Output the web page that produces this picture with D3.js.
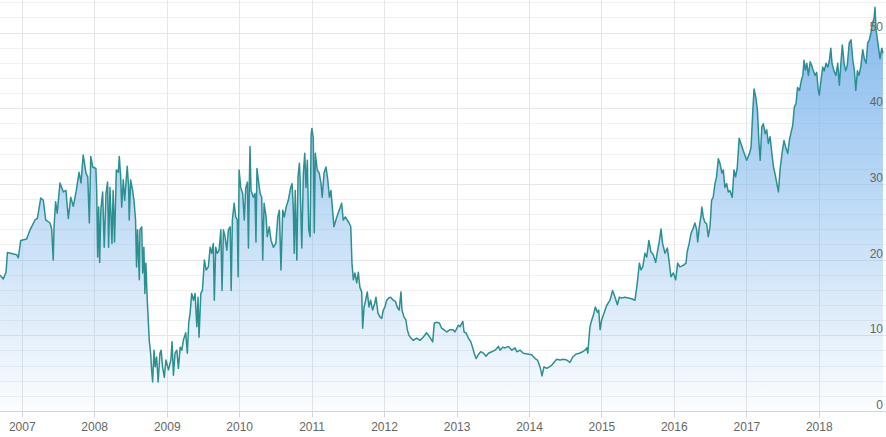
<!DOCTYPE html>
<html>
<head>
<meta charset="utf-8">
<script src="https://cdn.jsdelivr.net/npm/d3@7"></script>
<style>
  html, body { margin: 0; padding: 0; background: #fff; }
  #chart-container { width: 886px; height: 437px; }
  text { font-family: "Liberation Sans", Arial, sans-serif; font-size: 12px; fill: #666; }
</style>
</head>
<body>
<div id="chart-container"></div>
<script>
// price series, one entry per date
const dates = [
  "2006-09-11","2006-09-27","2006-10-11","2006-10-18","2006-12-04","2006-12-12","2006-12-24",
  "2007-01-23","2007-02-09","2007-03-06","2007-03-18","2007-04-04","2007-04-17","2007-04-29",
  "2007-05-21","2007-05-29","2007-06-06","2007-06-10","2007-06-18","2007-06-26","2007-07-10",
  "2007-07-27","2007-08-09","2007-08-21","2007-09-02","2007-09-15","2007-09-29","2007-10-14",
  "2007-10-24","2007-11-04","2007-11-18","2007-11-27","2007-12-05","2007-12-12","2007-12-22",
  "2008-01-07","2008-01-11","2008-01-16","2008-01-21","2008-01-26","2008-02-01","2008-02-10",
  "2008-02-18","2008-02-27","2008-03-06","2008-03-11","2008-03-18","2008-03-28","2008-04-03",
  "2008-04-10","2008-04-19","2008-04-29","2008-05-04","2008-05-11","2008-05-16","2008-05-24",
  "2008-05-31","2008-06-13","2008-06-20","2008-06-23","2008-06-30","2008-07-10","2008-07-17",
  "2008-07-25","2008-07-30","2008-08-04","2008-08-13","2008-08-16","2008-08-25","2008-08-30",
  "2008-09-05","2008-09-10","2008-09-15","2008-09-22","2008-10-02","2008-10-09","2008-10-14",
  "2008-10-19","2008-10-26","2008-11-01","2008-11-08","2008-11-16","2008-11-25","2008-12-01",
  "2008-12-08","2008-12-17","2008-12-25","2009-01-07","2009-01-19","2009-01-25","2009-02-01",
  "2009-02-09","2009-02-18","2009-02-26","2009-03-07","2009-03-15","2009-03-23","2009-04-04",
  "2009-04-12","2009-04-19","2009-04-26","2009-05-04","2009-05-13","2009-05-21","2009-05-30",
  "2009-06-05","2009-06-10","2009-06-19","2009-06-27","2009-07-07","2009-07-16","2009-07-27",
  "2009-08-05","2009-08-13","2009-08-21","2009-08-26","2009-09-02","2009-09-10","2009-09-19",
  "2009-09-28","2009-10-04","2009-10-11","2009-10-19","2009-10-28","2009-11-05","2009-11-14",
  "2009-11-19","2009-11-25","2009-12-04","2009-12-12","2009-12-20","2009-12-24","2009-12-29",
  "2010-01-06","2010-01-16","2010-01-24","2010-01-31","2010-02-09","2010-02-14","2010-02-19",
  "2010-02-22","2010-02-27","2010-03-11","2010-03-19","2010-03-24","2010-03-29","2010-04-05",
  "2010-04-14","2010-04-22","2010-04-27","2010-05-04","2010-05-14","2010-05-20","2010-05-30",
  "2010-06-08","2010-06-20","2010-07-02","2010-07-12","2010-07-20","2010-07-28","2010-08-06",
  "2010-08-14","2010-08-23","2010-09-03","2010-09-15","2010-09-22","2010-09-28","2010-10-03",
  "2010-10-08","2010-10-16","2010-10-22","2010-10-29","2010-11-01","2010-11-10","2010-11-18",
  "2010-11-25","2010-12-01","2010-12-08","2010-12-15","2010-12-22","2010-12-27","2010-12-31",
  "2011-01-07","2011-01-12","2011-01-17","2011-01-27","2011-02-06","2011-02-15","2011-02-21",
  "2011-03-02","2011-03-12","2011-03-21","2011-03-29","2011-04-06","2011-04-13","2011-04-21",
  "2011-05-01","2011-05-12","2011-05-22","2011-05-30","2011-06-07","2011-06-17","2011-06-27",
  "2011-07-07","2011-07-15","2011-07-21","2011-07-28","2011-08-05","2011-08-14","2011-08-22",
  "2011-08-30","2011-09-08","2011-09-13","2011-09-20","2011-09-28","2011-10-06","2011-10-15",
  "2011-10-23","2011-11-02","2011-11-13","2011-11-19","2011-11-29","2011-12-09","2011-12-18",
  "2011-12-26","2012-01-03","2012-01-12","2012-01-22","2012-02-01","2012-02-14","2012-02-26",
  "2012-03-05","2012-03-15","2012-03-24","2012-03-29","2012-04-08","2012-04-18","2012-04-25",
  "2012-05-03","2012-05-13","2012-05-25","2012-06-11","2012-06-28","2012-07-14","2012-07-31",
  "2012-08-17","2012-08-31","2012-09-08","2012-09-20","2012-10-03","2012-10-15","2012-10-27",
  "2012-11-09","2012-11-26","2012-12-12","2012-12-21","2013-01-08","2013-01-16","2013-01-30",
  "2013-02-05","2013-02-15","2013-02-27","2013-03-11","2013-03-21","2013-03-28","2013-04-07",
  "2013-04-18","2013-04-30","2013-05-14","2013-05-27","2013-06-08","2013-06-25","2013-07-12",
  "2013-07-28","2013-08-06","2013-08-19","2013-08-31","2013-09-17","2013-10-04","2013-10-20",
  "2013-10-29","2013-11-15","2013-12-01","2013-12-21","2014-01-12","2014-01-29","2014-02-10",
  "2014-02-20","2014-02-27","2014-03-05","2014-03-15","2014-03-29","2014-04-11","2014-04-23",
  "2014-05-05","2014-05-18","2014-06-04","2014-06-21","2014-07-08","2014-07-24","2014-08-07",
  "2014-08-24","2014-09-09","2014-09-26","2014-10-08","2014-10-17","2014-10-22","2014-10-27",
  "2014-11-02","2014-11-11","2014-11-19","2014-11-29","2014-12-09","2014-12-16","2014-12-23",
  "2014-12-31","2015-01-12","2015-01-25","2015-02-11","2015-02-24","2015-03-08","2015-03-20",
  "2015-03-30","2015-04-11","2015-04-27","2015-05-14","2015-05-31","2015-06-17","2015-06-28",
  "2015-07-09","2015-07-17","2015-07-26","2015-08-06","2015-08-15","2015-08-26","2015-09-05",
  "2015-09-17","2015-09-29","2015-10-09","2015-10-17","2015-10-26","2015-11-03","2015-11-15",
  "2015-11-27","2015-12-07","2015-12-15","2015-12-27","2016-01-08","2016-01-18","2016-01-29",
  "2016-02-15","2016-02-29","2016-03-06","2016-03-16","2016-03-25","2016-04-05","2016-04-14",
  "2016-04-23","2016-04-28","2016-05-06","2016-05-14","2016-05-19","2016-05-26","2016-06-03",
  "2016-06-12","2016-06-20","2016-06-29","2016-07-07","2016-07-15","2016-07-24","2016-08-01",
  "2016-08-10","2016-08-18","2016-08-28","2016-09-04","2016-09-12","2016-09-21","2016-09-29",
  "2016-10-07","2016-10-19","2016-10-28","2016-11-05","2016-11-13","2016-11-23","2016-12-13",
  "2016-12-31","2017-01-14","2017-01-22","2017-01-31","2017-02-06","2017-02-15","2017-02-23",
  "2017-03-03","2017-03-09","2017-03-17","2017-03-25","2017-04-03","2017-04-11","2017-04-19",
  "2017-04-28","2017-05-07","2017-05-15","2017-05-23","2017-06-01","2017-06-09","2017-06-17",
  "2017-06-27","2017-07-07","2017-07-18","2017-07-26","2017-08-03","2017-08-12","2017-08-20",
  "2017-08-28","2017-09-06","2017-09-13","2017-09-23","2017-10-03","2017-10-10","2017-10-16",
  "2017-10-23","2017-10-30","2017-11-07","2017-11-16","2017-11-24","2017-12-02","2017-12-11",
  "2017-12-19","2017-12-27","2018-01-01","2018-01-10","2018-01-18","2018-01-26","2018-02-04",
  "2018-02-13","2018-02-21","2018-02-28","2018-03-06","2018-03-16","2018-03-26","2018-04-04",
  "2018-04-12","2018-04-21","2018-04-27","2018-05-06","2018-05-14","2018-05-22","2018-06-01",
  "2018-06-10","2018-06-19","2018-06-27","2018-07-04","2018-07-12","2018-07-20","2018-07-29",
  "2018-08-08","2018-08-16","2018-08-25","2018-09-02","2018-09-10","2018-09-19","2018-09-27",
  "2018-10-04","2018-10-09","2018-10-14","2018-10-21","2018-10-28","2018-11-03","2018-11-12",
  "2018-11-18"
];
const prices = [
  18.0,17.5,18.4,21.0,20.7,20.3,22.6,
  22.8,24.0,25.3,25.5,28.2,27.9,25.3,
  24.9,24.1,20.0,24.4,27.7,26.2,30.2,
  29.0,29.2,25.5,28.3,27.1,29.0,31.6,
  30.2,33.9,31.5,31.0,24.9,33.7,32.3,
  32.1,29.2,20.4,27.0,19.7,26.6,29.0,
  21.7,28.8,30.3,21.7,29.6,22.2,29.2,
  22.4,31.9,31.6,33.7,31.0,27.0,30.6,
  27.9,32.4,29.6,25.3,30.6,29.2,27.9,
  25.3,19.1,24.0,17.4,24.0,24.4,18.3,
  21.7,15.6,19.6,14.7,9.4,7.7,5.5,
  3.9,8.1,5.9,7.2,3.9,7.7,8.1,
  5.9,4.5,6.8,5.5,6.8,9.2,4.8,
  7.7,8.1,5.7,8.5,8.1,9.4,10.4,
  7.7,11.7,13.0,15.6,14.7,15.6,11.2,
  15.1,9.8,15.6,16.0,20.0,18.7,19.1,
  21.7,20.9,22.2,14.7,21.7,20.9,21.3,
  24.0,16.0,24.0,23.1,21.3,24.0,24.4,
  16.0,25.3,27.5,25.7,25.3,17.8,31.9,
  29.6,28.8,25.3,29.5,30.3,21.6,30.6,
  35.0,29.2,28.3,28.8,22.4,32.1,30.6,
  28.8,28.3,20.0,27.5,25.7,23.1,24.4,
  22.6,21.7,22.2,25.7,26.6,18.7,26.6,
  25.7,27.0,27.9,29.6,30.1,27.0,20.9,
  29.2,20.0,31.0,32.8,31.0,21.6,31.5,
  34.1,29.6,33.2,24.0,23.1,36.5,37.4,
  36.1,23.6,34.1,31.9,31.5,30.1,28.3,
  31.5,32.3,30.6,28.3,29.2,27.0,24.4,
  25.3,26.2,26.9,27.5,25.3,25.7,25.3,
  24.9,24.4,19.6,17.4,18.3,17.0,18.4,
  16.4,15.8,11.0,13.8,14.7,15.8,13.8,
  14.7,13.4,14.3,15.1,13.0,12.5,12.3,
  13.4,13.8,14.7,15.0,15.1,14.7,14.5,
  13.8,13.4,15.8,13.4,12.5,12.1,10.8,
  10.1,9.7,9.4,9.7,9.4,9.8,10.4,
  9.8,9.2,11.7,11.8,11.7,11.0,10.8,
  10.5,10.8,10.8,10.5,11.4,11.2,11.9,
  10.5,10.4,9.7,9.2,8.4,7.7,7.0,
  7.5,7.9,7.7,7.3,7.7,7.9,8.1,
  8.6,8.1,8.5,8.4,8.6,8.1,8.4,
  7.9,8.1,7.7,7.6,7.5,7.0,6.8,
  6.1,5.5,4.7,5.9,5.7,5.9,6.1,
  6.5,6.9,6.8,6.9,6.8,6.5,7.2,
  7.6,7.7,7.9,8.1,8.4,7.7,9.4,
  11.2,12.1,12.7,13.8,13.1,13.4,10.8,
  12.1,13.0,14.0,14.7,16.0,15.1,14.1,
  15.1,15.0,15.1,15.0,14.9,14.7,16.9,
  19.6,18.7,19.1,20.9,20.4,22.6,21.1,
  20.7,19.7,21.3,22.4,24.1,22.2,20.9,
  21.6,19.6,17.8,18.3,17.4,19.6,19.1,
  19.3,19.6,21.1,22.2,23.5,24.2,24.9,
  24.0,22.4,24.4,25.7,27.0,25.7,25.0,
  24.8,23.1,24.4,27.9,28.3,30.1,31.0,
  33.4,32.8,31.5,31.9,29.6,30.1,29.0,
  29.2,28.3,31.9,31.0,32.1,36.1,34.5,
  33.2,34.1,34.9,39.8,42.6,41.5,39.8,
  35.4,33.2,37.6,38.0,36.7,37.2,35.4,
  36.3,34.1,32.3,31.4,30.1,29.0,31.9,
  34.1,35.8,34.7,34.1,35.8,36.9,37.8,
  40.2,40.7,42.8,42.4,43.8,44.4,46.4,
  45.1,46.0,44.4,46.2,45.7,45.0,44.4,
  44.8,42.4,41.8,43.8,45.5,45.0,46.0,
  45.5,46.4,48.0,46.0,45.0,44.4,46.0,
  43.1,46.4,48.4,46.0,45.0,45.7,48.7,
  49.1,46.4,45.0,42.4,45.0,44.4,45.5,
  47.8,46.6,46.0,48.7,49.1,50.1,51.4,
  51.9,53.4,50.4,49.1,47.8,46.6,48.0,
  47.3
];
const yearTicks = ["2007","2008","2009","2010","2011","2012","2013","2014","2015","2016","2017","2018"];
const yLabels = [0, 10, 20, 30, 40, 50];
const yMinor = [2,4,6,8,12,14,16,18,22,24,26,28,32,34,36,38,42,44,46,48,52,54];

const W = 886, H = 437;
const plotBottom = 411.5;
const parse = d3.timeParse("%Y-%m-%d");
const data = dates.map((d, i) => ({ date: parse(d), value: prices[i] }));

const svg = d3.select("#chart-container").append("svg")
  .attr("width", W).attr("height", H);

const x = d3.scaleTime()
  .domain([new Date(2007, 0, 1), new Date(2018, 0, 1)])
  .range([22.3, 819.3]);
const y = d3.scaleLinear().domain([0, 50]).range([plotBottom, 33]);
const crisp = v => Math.floor(v) + 0.5;

const defs = svg.append("defs");
defs.append("clipPath").attr("id", "plot-clip")
  .append("rect").attr("x", 0).attr("y", 0).attr("width", W).attr("height", plotBottom);
const grad = defs.append("linearGradient").attr("id", "area-fill")
  .attr("gradientUnits", "userSpaceOnUse")
  .attr("x1", 0).attr("y1", 0).attr("x2", 0).attr("y2", plotBottom);
grad.append("stop").attr("offset", 0).attr("stop-color", "#7cb5ec").attr("stop-opacity", 0.95);
grad.append("stop").attr("offset", 1).attr("stop-color", "#7cb5ec").attr("stop-opacity", 0.03);

// grid
const grid = svg.append("g").attr("class", "grid");
grid.selectAll("line.minor").data(yMinor).enter().append("line")
  .attr("class", "minor")
  .attr("x1", 0).attr("x2", W)
  .attr("y1", d => crisp(y(d))).attr("y2", d => crisp(y(d)))
  .attr("stroke", "#f0f0f0");
grid.selectAll("line.major").data(yLabels).enter().append("line")
  .attr("class", "major")
  .attr("x1", 0).attr("x2", W)
  .attr("y1", d => crisp(y(d))).attr("y2", d => crisp(y(d)))
  .attr("stroke", "#e6e6e6");
grid.selectAll("line.year").data(yearTicks).enter().append("line")
  .attr("class", "year")
  .attr("x1", d => crisp(x(new Date(+d, 0, 1)))).attr("x2", d => crisp(x(new Date(+d, 0, 1))))
  .attr("y1", 0).attr("y2", plotBottom)
  .attr("stroke", "#e6e6e6");

// series
const series = svg.append("g").attr("clip-path", "url(#plot-clip)");
series.append("path").datum(data)
  .attr("fill", "url(#area-fill)")
  .attr("d", d3.area().x(d => x(d.date)).y0(plotBottom).y1(d => y(d.value)));
series.append("path").datum(data)
  .attr("fill", "none")
  .attr("stroke", "#2b908f")
  .attr("stroke-width", 1.5)
  .attr("stroke-linejoin", "round")
  .attr("d", d3.line().x(d => x(d.date)).y(d => y(d.value)));

// x axis
const xAxis = svg.append("g").attr("class", "x-axis");
xAxis.append("line")
  .attr("x1", 0).attr("x2", W).attr("y1", plotBottom).attr("y2", plotBottom)
  .attr("stroke", "#ccd6eb");
xAxis.selectAll("line.tick").data(yearTicks).enter().append("line")
  .attr("class", "tick")
  .attr("x1", d => crisp(x(new Date(+d, 0, 1)))).attr("x2", d => crisp(x(new Date(+d, 0, 1))))
  .attr("y1", plotBottom).attr("y2", plotBottom + 6)
  .attr("stroke", "#ccd6eb");
xAxis.selectAll("text").data(yearTicks).enter().append("text")
  .attr("x", d => x(new Date(+d, 0, 1)))
  .attr("y", 431)
  .attr("text-anchor", "middle")
  .text(d => d);

// y labels inside plot, right side
svg.append("g").attr("class", "y-axis")
  .selectAll("text").data(yLabels).enter().append("text")
  .attr("x", 883)
  .attr("y", d => y(d) - 2.5)
  .attr("text-anchor", "end")
  .text(d => d);
</script>
</body>
</html>
